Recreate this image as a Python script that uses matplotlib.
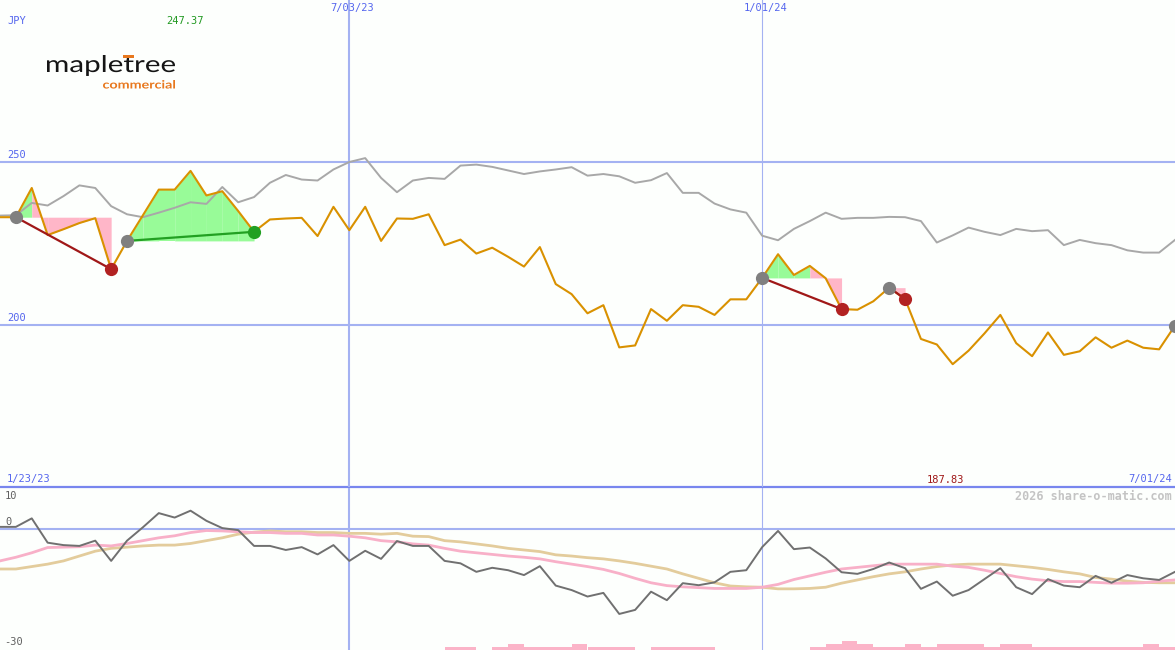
import numpy as np
import pandas as pd
import matplotlib
matplotlib.use("Agg")
import matplotlib.pyplot as plt
from matplotlib.patches import Rectangle, PathPatch
from matplotlib.textpath import TextPath
from matplotlib.font_manager import FontProperties
from matplotlib.transforms import (blended_transform_factory, offset_copy,
                                   Affine2D, IdentityTransform)

# weekly data, last point 01/07/24
dates = pd.date_range("2023-01-30", periods=75, freq="7D")
start_label = "1/23/23"

# share price (JPY)
price = [233.1, 233.1, 242.1, 227.6, 229.4, 231.3, 232.8, 217.1, 225.8, 233.7,
         241.6, 241.6, 247.37, 239.8, 241.1, 235.0, 228.6, 232.4, 232.7, 232.9,
         227.3, 236.3, 229.1, 236.3, 225.8, 232.7, 232.6, 234.0, 224.5, 226.2,
         221.9, 223.7, 220.9, 217.9, 223.9, 212.5, 209.4, 203.5, 206.0, 193.0,
         193.6, 204.8, 201.2, 206.0, 205.5, 203.0, 207.8, 207.8, 214.4, 221.7,
         215.3, 218.1, 214.3, 204.8, 204.6, 207.2, 211.4, 207.9, 195.6, 193.9,
         187.83, 192.0, 197.3, 203.0, 194.3, 190.3, 197.6, 190.7, 191.8, 196.1,
         192.9, 195.1, 192.9, 192.4, 199.7]

# comparison index (grey line)
bench = [233.6, 233.7, 237.5, 236.7, 239.6, 242.9, 242.1, 236.5, 234.0, 233.1,
         234.5, 236.0, 237.7, 237.2, 242.4, 237.7, 239.3, 243.7, 246.1, 244.7,
         244.4, 247.8, 250.1, 251.3, 245.2, 240.8, 244.4, 245.2, 244.9, 249.0,
         249.3, 248.6, 247.5, 246.4, 247.2, 247.8, 248.5, 245.9, 246.4, 245.7,
         243.7, 244.5, 246.7, 240.6, 240.6, 237.3, 235.5, 234.5, 227.4, 226.0,
         229.5, 231.9, 234.5, 232.6, 232.9, 232.9, 233.2, 233.1, 231.9, 225.3,
         227.5, 229.9, 228.6, 227.6, 229.5, 228.8, 229.1, 224.5, 226.1, 225.1,
         224.5, 222.9, 222.2, 222.2, 226.1]

# lower panel
osc = [0.4, 0.4, 2.5, -3.5, -4.1, -4.3, -3.0, -8.0, -3.0, 0.3,
       3.8, 2.7, 4.4, 1.9, 0.1, -0.4, -4.3, -4.3, -5.3, -4.6,
       -6.4, -4.1, -8.0, -5.5, -7.5, -3.1, -4.3, -4.3, -8.0, -8.6,
       -10.7, -9.7, -10.3, -11.5, -9.3, -14.1, -15.2, -16.8, -15.9, -21.1,
       -20.1, -15.6, -17.7, -13.5, -14.0, -13.3, -10.7, -10.3, -4.6, -0.6,
       -5.1, -4.7, -7.4, -10.8, -11.2, -10.0, -8.4, -9.8, -14.9, -13.1,
       -16.6, -15.2, -12.5, -9.8, -14.5, -16.2, -12.5, -14.1, -14.5, -11.7,
       -13.4, -11.5, -12.3, -12.7, -10.7]
osc_fast = [-8.0, -7.1, -6.0, -4.7, -4.6, -4.5, -4.1, -4.3, -3.7, -3.0,
            -2.3, -1.8, -1.0, -0.5, -0.6, -0.8, -1.0, -1.0, -1.2, -1.2,
            -1.6, -1.6, -1.9, -2.3, -3.0, -3.3, -3.8, -4.1, -4.9, -5.6,
            -6.0, -6.4, -6.8, -7.1, -7.5, -8.2, -8.8, -9.4, -10.1, -11.1,
            -12.3, -13.4, -14.1, -14.4, -14.6, -14.8, -14.8, -14.8, -14.5, -13.8,
            -12.6, -11.7, -10.8, -10.0, -9.6, -9.2, -8.8, -8.8, -8.8, -8.8,
            -9.3, -9.6, -10.3, -11.1, -11.9, -12.5, -12.9, -13.1, -13.1, -13.3,
            -13.5, -13.5, -13.4, -13.0, -12.7]
osc_slow = [-10.0, -10.0, -9.4, -8.8, -8.0, -6.8, -5.6, -4.9, -4.6, -4.3,
            -4.1, -4.1, -3.7, -3.0, -2.3, -1.4, -0.9, -0.6, -0.8, -0.8,
            -1.0, -1.0, -1.2, -1.2, -1.4, -1.2, -1.9, -2.0, -3.0, -3.3,
            -3.8, -4.3, -4.9, -5.3, -5.7, -6.5, -6.8, -7.2, -7.5, -8.0,
            -8.6, -9.3, -10.0, -11.2, -12.3, -13.4, -14.2, -14.4, -14.5, -14.9,
            -14.9, -14.8, -14.5, -13.5, -12.7, -11.9, -11.2, -10.7, -10.0, -9.4,
            -9.0, -8.8, -8.8, -8.8, -9.2, -9.6, -10.1, -10.7, -11.2, -12.1,
            -12.5, -13.0, -13.3, -13.4, -13.4]
osc_bars = [0] * 28 + [0.75, 0.75, 0, 0.75, 1.5, 0.75, 0.75, 0.75, 1.5, 0.75,
                       0.75, 0.75, 0, 0.75, 0.75, 0.75, 0.75, 0, 0, 0,
                       0, 0, 0, 0.75, 1.5, 2.25, 1.5, 0.75, 0.75, 1.5,
                       0.75, 1.5, 1.5, 1.5, 0.75, 1.5, 1.5, 0.75, 0.75, 0.75,
                       0.75, 0.75, 0.75, 0.75, 1.5, 0.75, 0]

# trades (index into dates)
entries = [1, 8, 48, 56]
exits = [7, 16, 53, 57]
open_entry = 74

marks = ["2023-07-03", "2024-01-01"]

BG = "#fdfffd"
GRID = "#a4b2f2"
SEP = "#7886ee"
TXT = "#5566ee"
ORANGE = "#d99100"
LOGO_OR = "#e8781e"
FONT = "DejaVu Sans Mono"
W, H = 1175, 650

fig = plt.figure(figsize=(W / 100, H / 100), dpi=100, facecolor=BG)
ax = fig.add_axes([0, 163 / H, 1, 487 / H])
ax2 = fig.add_axes([0, 0, 1, 162 / H])
for a in (ax, ax2):
    a.set_axis_off()
    a.set_xlim(dates[0], dates[-1])
ax.set_ylim(150, 300)
ax2.set_ylim(-30, 10)

# grid
ax.axhline(250, color=GRID, lw=1.5, zorder=1)
ax.axhline(200, color=GRID, lw=1.5, zorder=1)
ax.axhline(150, color=SEP, lw=1.6, clip_on=False, zorder=1)
ax2.axhline(0, color=GRID, lw=1.5, zorder=1)
for a in (ax, ax2):
    a.axvline(pd.Timestamp(marks[0]), color=GRID, lw=1.5, zorder=1)
    a.axvline(pd.Timestamp(marks[1]), color=GRID, lw=0.8, zorder=1)

# trade fills
for e, x in zip(entries, exits):
    level = price[e]
    for j in range(e, x):
        col = "#98fb98" if price[j + 1] >= level else "#ffb6c8"
        ax.fill_between(dates[j:j + 2], price[j:j + 2], level, color=col,
                        lw=0, zorder=2)

ax.plot(dates, bench, color="#a8a8a8", lw=1.4, zorder=3)
ax.plot(dates, price, color=ORANGE, lw=1.5, zorder=4)

for e, x in zip(entries, exits):
    win = price[x] >= price[e]
    ax.plot([dates[e], dates[x]], [price[e], price[x]],
            color="#22a022" if win else "#a01818", lw=1.6, zorder=5)
    ax.plot(dates[e], price[e], "o", color="#808080", ms=9.5, mec="none", zorder=6)
    ax.plot(dates[x], price[x], "o", color="#22a022" if win else "#b22222",
            ms=9.5, mec="none", zorder=6)
ax.plot(dates[open_entry], price[open_entry], "o", color="#808080", ms=9.5,
        mec="none", zorder=6)

# lower panel
ax2.bar(dates, osc_bars, width=7, bottom=-30, align="edge", color="#fbb4c8",
        lw=0, zorder=2)
ax2.plot(dates, osc_slow, color="#e3cc9c", lw=2, zorder=3)
ax2.plot(dates, osc_fast, color="#f8b0c8", lw=2, zorder=3)
ax2.plot(dates, osc, color="#707070", lw=1.4, zorder=4)


# labels
def lab(a, x, y, s, dx=0, dy=0, trans=None, **kw):
    t = trans if trans is not None else a.transAxes
    t = offset_copy(t, fig=fig, x=dx, y=dy, units="dots")
    a.text(x, y, s, transform=t, fontfamily=FONT, fontsize=7.5, **kw)


def mdy(ts):
    return f"{ts.month}/{ts.day:02d}/{ts:%y}"


bt = blended_transform_factory(ax.transData, ax.transAxes)
ya = blended_transform_factory(ax.transAxes, ax.transData)
lab(ax, 0.006, 1 - 21 / 487, "JPY", color=TXT, va="center")
imax = int(np.argmax(price))
imin = int(np.argmin(price))
lab(ax, dates[imax], 1 - 21 / 487, f"{price[imax]:.2f}", dx=-6, trans=bt,
    color="#229922", ha="center", va="center")
lab(ax, dates[imin], 7 / 487, f"{price[imin]:.2f}", dx=-7, trans=bt,
    color="#a01818", ha="center", va="center")
for m in marks:
    ts = pd.Timestamp(m)
    lab(ax, ts, 1 - 8 / 487, mdy(ts), dx=3, trans=bt, color=TXT,
        ha="center", va="center")
lab(ax, 0.006, 250, "250", dy=2, trans=ya, color=TXT, va="bottom")
lab(ax, 0.006, 200, "200", dy=2, trans=ya, color=TXT, va="bottom")
lab(ax, 0.006, 8 / 487, start_label, color=TXT, va="center")
lab(ax, 0.9975, 8 / 487, mdy(dates[-1]), color=TXT, ha="right", va="center")

lab(ax2, 0.004, 1 - 8 / 162, "10", color="#606060", va="center")
lab(ax2, 0.005, 1 - 34 / 162, "0", color="#606060", va="center")
lab(ax2, 0.004, 8 / 162, "-30", color="#606060", va="center")
ax2.text(0.9975, 1 - 9 / 162, "2026 share-o-matic.com", transform=ax2.transAxes,
         fontfamily=FONT, fontsize=8.5, fontweight="bold", color="#c4c4c4",
         ha="right", va="center")


# logo: text outlines stretched into a pixel box (x0..x1, top..baseline)
def word(s, x0, x1, top, base, color, weight):
    prop = FontProperties(family="Lato", weight=weight)
    tp = TextPath((0, 0), s, size=100, prop=prop)
    ext = tp.get_extents()
    sx = (x1 - x0) / ext.width
    sy = (base - top) / ext.y1
    tr = Affine2D().translate(-ext.x0, 0).scale(sx, sy).translate(x0, H - base)
    fig.add_artist(PathPatch(tr.transform_path(tp), facecolor=color, lw=0,
                             transform=IdentityTransform()))
    return prop, ext.x0, sx


prop, ox, sx = word("mapletree", 47, 175, 55, 72, "#151515", "normal")
t_left = TextPath((0, 0), "maple", size=100, prop=prop).get_extents().x1
t_right = TextPath((0, 0), "maplet", size=100, prop=prop).get_extents().x1
bx0 = 47 + (t_left - ox) * sx + 1
bx1 = 47 + (t_right - ox) * sx
fig.add_artist(Rectangle((bx0, H - 57.5), bx1 - bx0, 3, facecolor=LOGO_OR, lw=0,
                         transform=IdentityTransform()))
word("commercial", 103, 175, 80, 88.5, LOGO_OR, "bold")

fig.savefig("out.png", dpi=100, facecolor=BG)
